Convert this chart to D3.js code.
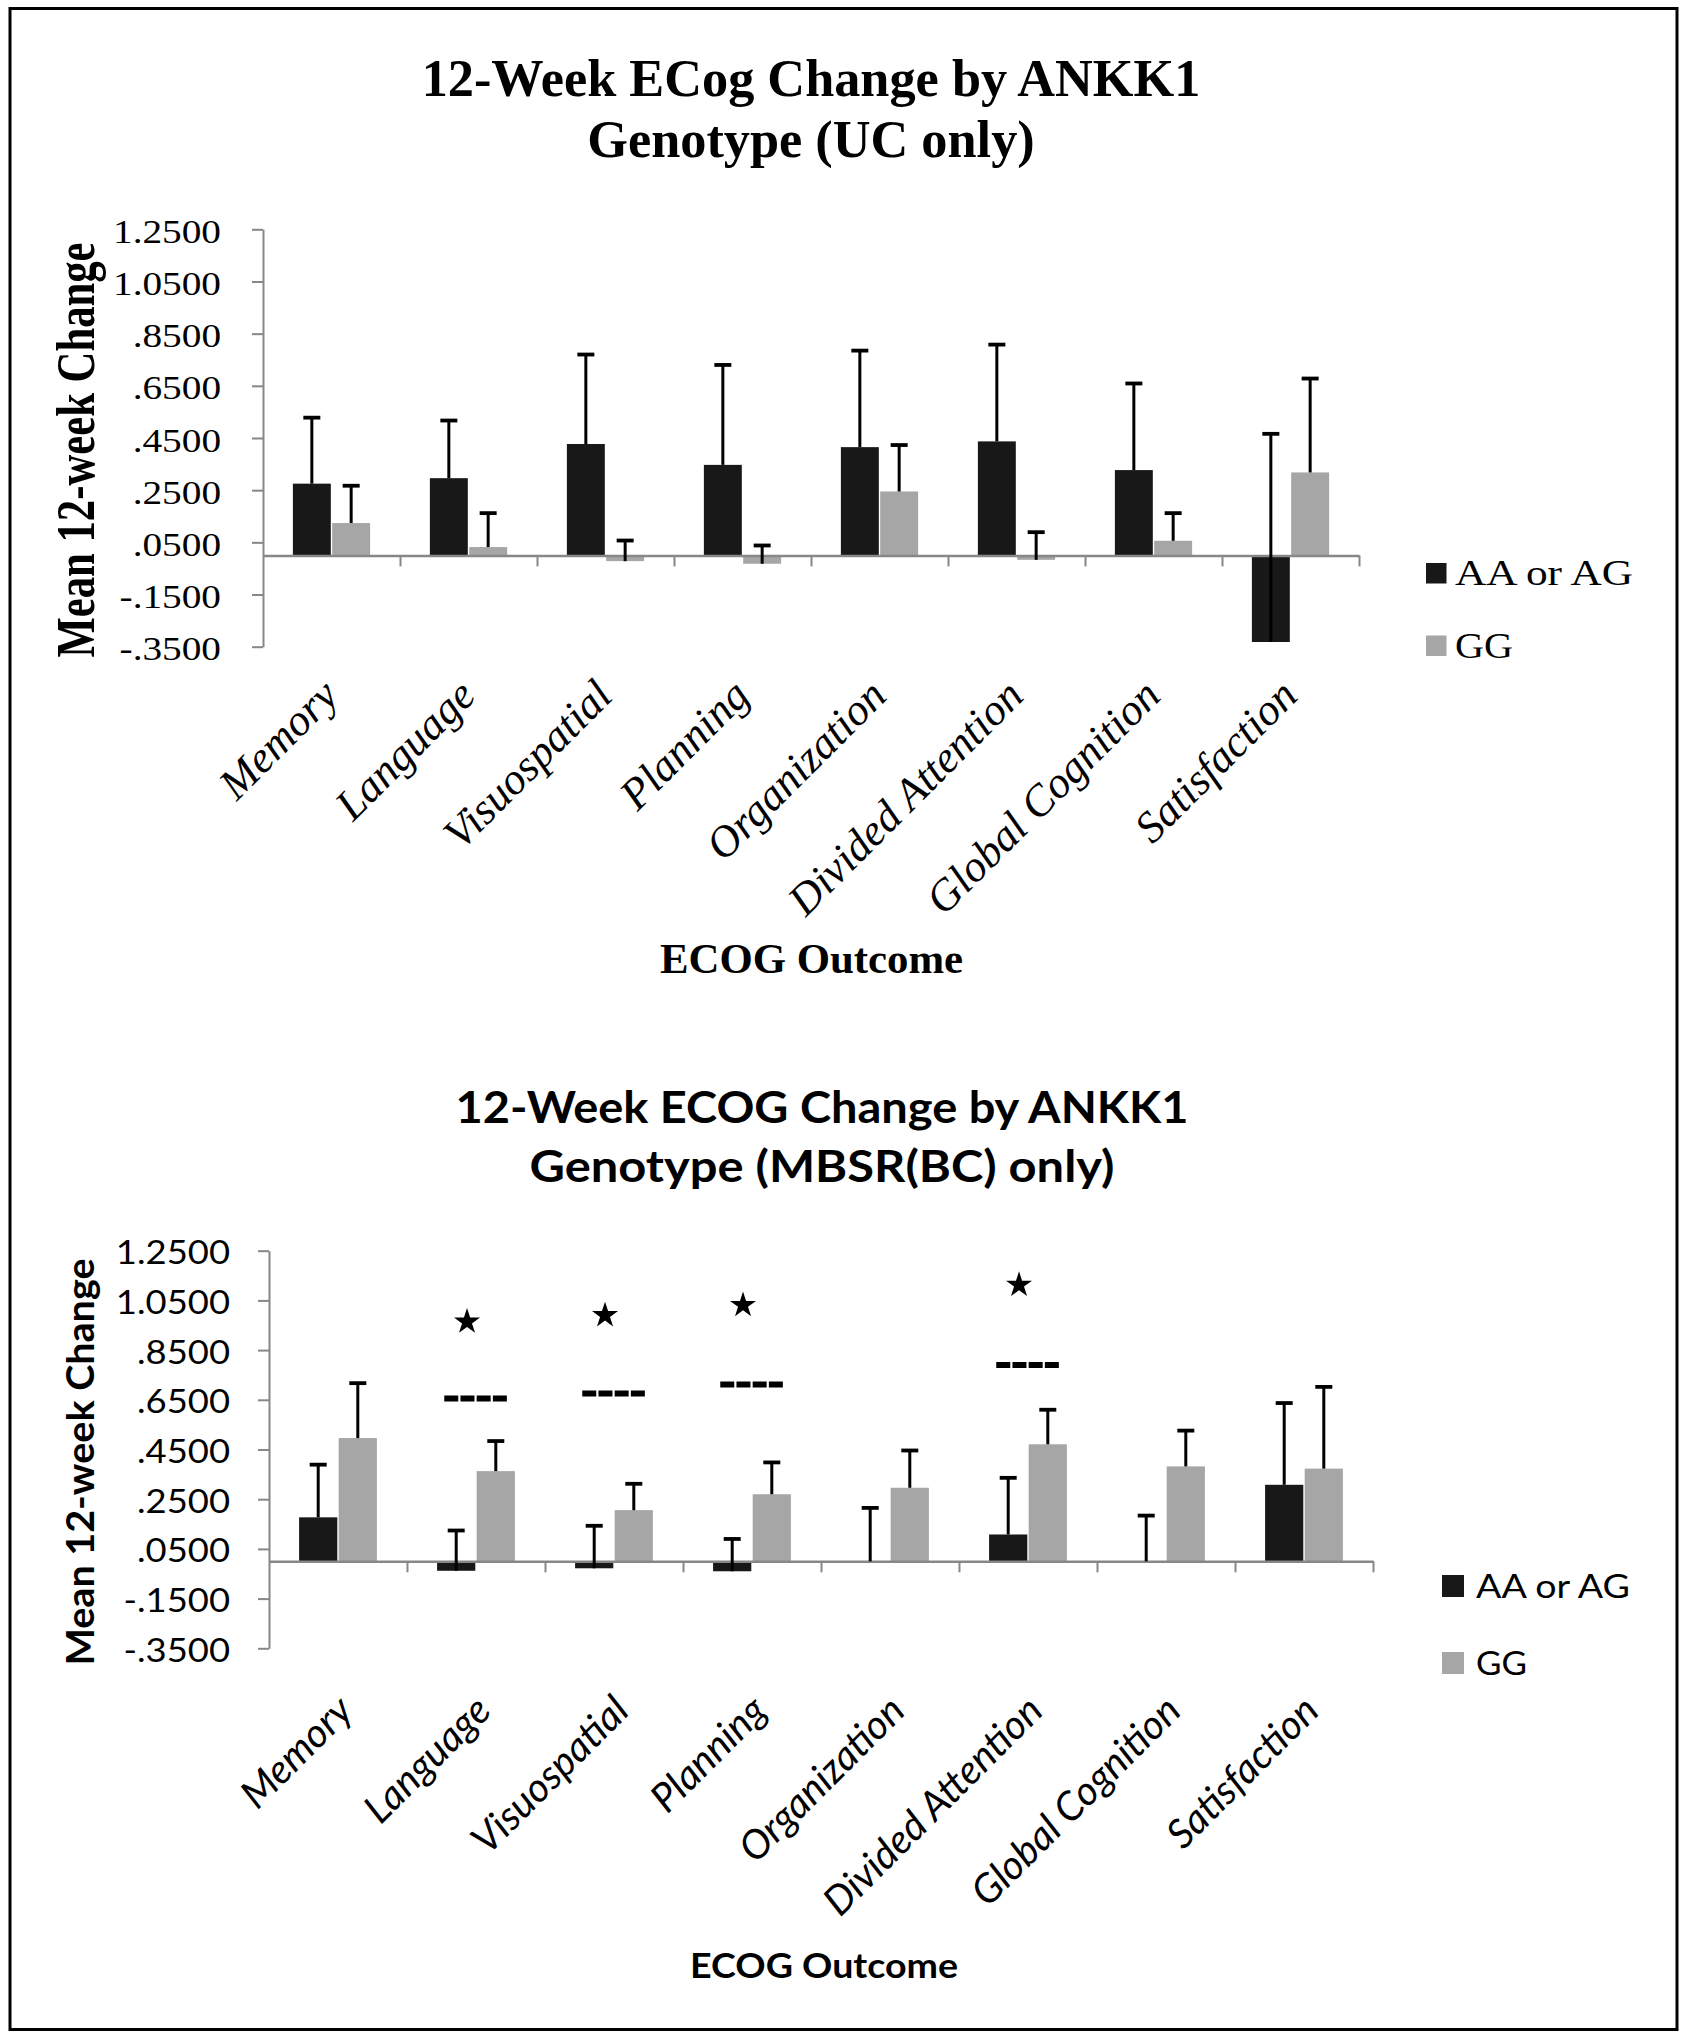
<!DOCTYPE html>
<html><head><meta charset="utf-8">
<script src="https://cdn.jsdelivr.net/npm/d3@7"></script>
<style>body{margin:0;background:#fff}</style>
</head><body>
<svg id="fig" width="1687" height="2040"></svg>
<script>
// ---------- data ----------
const categories = ["Memory","Language","Visuospatial","Planning","Organization","Divided Attention","Global Cognition","Satisfaction"];
const seriesNames = ["AA or AG","GG"];
const yTickValues = [-0.35,-0.15,0.05,0.25,0.45,0.65,0.85,1.05,1.25];
const yTickLabels = ["-.3500","-.1500",".0500",".2500",".4500",".6500",".8500","1.0500","1.2500"];

// Chart 1: UC only (mean and + error)
const ucAAMean = [0.275,0.296,0.427,0.347,0.415,0.437,0.327,-0.332];
const ucAAErr  = [0.253,0.221,0.343,0.383,0.370,0.371,0.332,0.798];
const ucGGMean = [0.124,0.032,-0.022,-0.032,0.245,-0.017,0.056,0.318];
const ucGGErr  = [0.143,0.130,0.079,0.070,0.178,0.106,0.106,0.360];

// Chart 2: MBSR(BC) only
const mbAAMean = [0.177,-0.038,-0.028,-0.040,0.000,0.108,0.000,0.308];
const mbAAErr  = [0.212,0.162,0.171,0.130,0.215,0.228,0.184,0.329];
const mbGGMean = [0.496,0.363,0.206,0.270,0.296,0.471,0.382,0.373];
const mbGGErr  = [0.221,0.121,0.106,0.128,0.150,0.139,0.144,0.329];

// significance markers (chart 2)
const sigCategories = ["Language","Visuospatial","Planning","Divided Attention"];
const sigLineValues = [0.655,0.675,0.712,0.790];
const sigStarValues = [0.964,0.990,1.031,1.112];

const title1 = ["12-Week ECog Change by ANKK1","Genotype (UC only)"];
const title2 = ["12-Week ECOG Change by ANKK1","Genotype (MBSR(BC) only)"];
const yTitle = "Mean 12-week Change";
const xTitle = "ECOG Outcome";

// ---------- drawing ----------
const svg = d3.select("#fig");
svg.append("rect").attr("x",10).attr("y",8.5).attr("width",1667).attr("height",2021)
  .attr("fill","none").attr("stroke","#000").attr("stroke-width",3);

const SERIF = "'Liberation Serif','Times New Roman',serif";
const SANS = "Lato,'Open Sans','Noto Sans',sans-serif";

function stretch(sel, f){
  sel.each(function(){
    const w = this.getComputedTextLength();
    d3.select(this).attr("textLength", w*f).attr("lengthAdjust","spacingAndGlyphs");
  });
}

function drawChart(cfg){
  const g = svg.append("g");
  const x = d3.scaleBand().domain(categories).range([cfg.x0, cfg.x1]);
  const bw = x.bandwidth();
  const xs = d3.scaleBand().domain(seriesNames).range([0,bw]).paddingInner(0.035).paddingOuter(0.76);
  const y = d3.scaleLinear().domain([-0.35,1.25]).range([cfg.yBot, cfg.yTop]);
  const color = d3.scaleOrdinal().domain(seriesNames).range(["#181818","#a6a6a6"]);
  const data = categories.flatMap((c,i)=>[
    {c, s:seriesNames[0], v:cfg.aMean[i], e:cfg.aErr[i]},
    {c, s:seriesNames[1], v:cfg.gMean[i], e:cfg.gErr[i]}]);

  // bars
  g.append("g").selectAll("rect").data(data).join("rect")
    .attr("x", d=>x(d.c)+xs(d.s)).attr("width", xs.bandwidth())
    .attr("y", d=>y(Math.max(0,d.v))).attr("height", d=>Math.abs(y(d.v)-y(0)))
    .attr("fill", d=>color(d.s));

  // y axis
  const ya = d3.axisLeft(y).tickValues(yTickValues).tickFormat((d,i)=>yTickLabels[i]).tickSize(11).tickSizeOuter(0);
  const yg = g.append("g").attr("transform",`translate(${cfg.x0},0)`).call(ya);
  yg.select(".domain").attr("stroke","#878787").attr("stroke-width",2);
  yg.selectAll(".tick line").attr("stroke","#878787").attr("stroke-width",2);
  const yt = yg.selectAll(".tick text").attr("font-family",cfg.font).attr("font-size",cfg.tickSize)
    .attr("fill","#000").attr("x",-cfg.tickGap).attr("dy",cfg.tickDy);
  stretch(yt, cfg.tickStretch);

  // x axis (zero line with boundary ticks)
  const xb = d3.scaleLinear().domain([0,categories.length]).range([cfg.x0,cfg.x1]);
  const xa = d3.axisBottom(xb).tickValues(d3.range(1,categories.length+1)).tickFormat("").tickSize(11).tickSizeOuter(0);
  const xg = g.append("g").attr("transform",`translate(0,${y(0)})`).call(xa);
  xg.select(".domain").attr("stroke","#878787").attr("stroke-width",2.5);
  xg.selectAll(".tick line").attr("stroke","#878787").attr("stroke-width",2);

  // error bars
  const cx = d=>x(d.c)+xs(d.s)+xs.bandwidth()/2;
  const eg = g.append("g").attr("stroke","#000");
  eg.selectAll("line.v").data(data).join("line").attr("class","v")
    .attr("x1",cx).attr("x2",cx).attr("y1",d=>y(d.v)).attr("y2",d=>y(d.v+d.e)).attr("stroke-width",3);
  eg.selectAll("line.c").data(data).join("line").attr("class","c")
    .attr("x1",d=>cx(d)-8.5).attr("x2",d=>cx(d)+8.5).attr("y1",d=>y(d.v+d.e)).attr("y2",d=>y(d.v+d.e)).attr("stroke-width",3.8);

  // significance
  if(cfg.sig){
    const sg = g.append("g");
    sg.selectAll("line").data(sigCategories).join("line")
      .attr("x1",d=>x(d)+bw*0.27).attr("x2",d=>x(d)+bw*0.725)
      .attr("y1",(d,i)=>y(sigLineValues[i])).attr("y2",(d,i)=>y(sigLineValues[i]))
      .attr("stroke","#000").attr("stroke-width",6).attr("stroke-dasharray","14,2.2");
    sg.selectAll("path").data(sigCategories).join("path")
      .attr("d", d3.symbol(d3.symbolStar, 210))
      .attr("transform",(d,i)=>`translate(${x(d)+bw*0.435},${y(sigStarValues[i])})`)
      .attr("fill","#000");
  }

  // category labels
  g.append("g").selectAll("text").data(categories).join("text")
    .attr("transform", d=>`translate(${x(d)+bw/2+cfg.labDx},${cfg.labY}) rotate(-45)`)
    .attr("text-anchor","end").attr("font-family",cfg.font).attr("font-style","italic")
    .attr("font-size",cfg.labSize).attr("fill","#000").text(d=>d);

  // title
  const tg = g.append("g").attr("font-family",cfg.font).attr("font-weight","bold").attr("text-anchor","middle").attr("fill","#000");
  cfg.title.forEach((t,i)=>{
    const tx = tg.append("text").attr("x",cfg.titleX).attr("y",cfg.titleY[i]).attr("font-size",cfg.titleSize).text(t);
    if(cfg.titleLen) tx.attr("textLength",cfg.titleLen[i]).attr("lengthAdjust","spacingAndGlyphs");
  });

  // axis titles
  const xt = g.append("text").attr("x",cfg.xTitleX).attr("y",cfg.xTitleY).attr("text-anchor","middle")
    .attr("font-family",cfg.font).attr("font-weight","bold").attr("font-size",cfg.xTitleSize).text(xTitle);
  if(cfg.xTitleLen) xt.attr("textLength",cfg.xTitleLen).attr("lengthAdjust","spacingAndGlyphs");
  g.append("text").attr("transform",`translate(${cfg.yTitleX},${cfg.yTitleY}) rotate(-90) scale(1,${cfg.yTitleScale})`)
    .attr("text-anchor","middle").attr("font-family",cfg.font).attr("font-weight","bold")
    .attr("font-size",cfg.yTitleSize).attr("textLength",cfg.yTitleLen).attr("lengthAdjust","spacingAndGlyphs").text(yTitle);

  // legend
  const lg = g.append("g");
  seriesNames.forEach((s,i)=>{
    lg.append("rect").attr("x",cfg.legX).attr("y",cfg.legY[i]).attr("width",cfg.legBox).attr("height",cfg.legBox).attr("fill",color(s));
    lg.append("text").attr("x",cfg.legTextX).attr("y",cfg.legY[i]+cfg.legBase).attr("font-family",cfg.font)
      .attr("font-size",cfg.legSize).attr("textLength",cfg.legLen[i]).attr("lengthAdjust","spacingAndGlyphs").text(s);
  });
}

drawChart({
  x0:263, x1:1359, yTop:229.3, yBot:646.7,
  aMean:ucAAMean, aErr:ucAAErr, gMean:ucGGMean, gErr:ucGGErr, sig:false,
  font:SERIF, tickSize:33, tickGap:42, tickDy:13, tickStretch:1.19,
  labDx:9, labY:698, labSize:44,
  title:title1, titleX:811, titleY:[96,157], titleSize:52.3,
  xTitleX:811.5, xTitleY:973, xTitleSize:42.8,
  yTitleX:94, yTitleY:450, yTitleScale:1.25, yTitleSize:43.5, yTitleLen:415,
  legX:1426, legY:[563,635.5], legBox:20.5, legTextX:1455, legBase:22, legSize:35, legLen:[178,58]
});

drawChart({
  x0:269, x1:1373, yTop:1250.7, yBot:1648.3,
  aMean:mbAAMean, aErr:mbAAErr, gMean:mbGGMean, gErr:mbGGErr, sig:true,
  font:SANS, tickSize:32.5, tickGap:39, tickDy:13, tickStretch:1.12,
  labDx:17, labY:1713, labSize:40,
  title:title2, titleX:822, titleY:[1123,1182], titleSize:43, titleLen:[733,585],
  xTitleX:824, xTitleY:1978, xTitleSize:35, xTitleLen:268,
  yTitleX:94, yTitleY:1462, yTitleScale:1.0, yTitleSize:38, yTitleLen:407,
  legX:1442, legY:[1575,1652], legBox:22, legTextX:1476, legBase:23, legSize:33, legLen:[154,51]
});
</script>
</body></html>
